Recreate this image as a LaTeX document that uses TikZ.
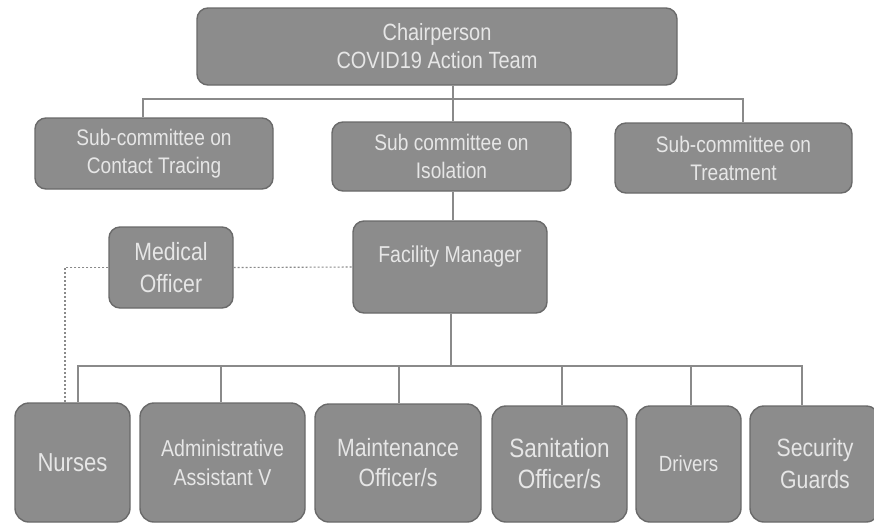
\documentclass[tikz,border=0pt]{standalone}
\usepackage{fontspec}
\setmainfont[FakeStretch=0.85]{Liberation Sans}
\definecolor{boxfill}{HTML}{8C8C8C}
\definecolor{boxedge}{HTML}{6A6A6A}
\definecolor{boxtext}{HTML}{E6E6E6}
\definecolor{linkgray}{HTML}{8A8A8A}
\newcommand{\fs}[2]{\fontsize{#1}{#2}\selectfont}
\begin{document}
\begin{tikzpicture}[x=1pt,y=-1pt,
  box/.style={draw=boxedge, line width=1.4pt, fill=boxfill, rounded corners=11pt,
              text=boxtext, align=center, inner sep=0pt},
  link/.style={draw=linkgray, line width=1.1pt},
  dotlink/.style={draw=linkgray, line width=1.1pt, dash pattern=on 2pt off 2pt},
]
\useasboundingbox[fill=white] (0,0) rectangle (874,523);

% top level
\node[box, minimum width=480pt, minimum height=77pt, font=\fs{23.5}{28}] (chair) at (437,46.5)
  {Chairperson\\COVID19 Action Team};

% sub-committees
\node[box, minimum width=238pt, minimum height=71pt, font=\fs{22.5}{28}] (sub1) at (154,153.5)
  {Sub-committee on\\Contact Tracing};
\node[box, minimum width=239pt, minimum height=69pt, font=\fs{22.5}{28}] (sub2) at (451.5,156.5)
  {Sub committee on\\Isolation};
\node[box, minimum width=237pt, minimum height=70pt, font=\fs{22.5}{28}] (sub3) at (733.5,158)
  {Sub-committee on\\Treatment};

% isolation facility
\node[box, minimum width=194pt, minimum height=92pt, font=\fs{23}{26}] (fac) at (450,267)
  {Facility Manager\\\mbox{}};
\node[box, minimum width=124pt, minimum height=81pt, font=\fs{25}{32}] (med) at (171,267.5)
  {Medical\\Officer};

% staff
\node[box, minimum width=115pt, minimum height=119pt, rounded corners=14pt, font=\fs{26}{30}] (nurses) at (72.5,462.5)
  {Nurses};
\node[box, minimum width=165pt, minimum height=119pt, rounded corners=14pt, font=\fs{23}{29}] (admin) at (222.5,462.5)
  {Administrative\\Assistant V};
\node[box, minimum width=166pt, minimum height=118pt, rounded corners=14pt, font=\fs{25}{30}] (maint) at (398,463)
  {Maintenance\\Officer/s};
\node[box, minimum width=135pt, minimum height=116pt, rounded corners=14pt, font=\fs{26.5}{31}] (sanit) at (559.5,464)
  {Sanitation\\Officer/s};
\node[box, minimum width=105pt, minimum height=116pt, rounded corners=14pt, font=\fs{22}{28}] (drivers) at (688.5,464)
  {Drivers};
\node[box, minimum width=130pt, minimum height=116pt, rounded corners=14pt, font=\fs{25}{32}] (guards) at (815,464)
  {Security\\Guards};

% bus coordinates
\coordinate (t1) at (143,99);
\coordinate (t2) at (453,99);
\coordinate (t3) at (743,99);
\coordinate (b0) at (451,366);
\coordinate (b1) at (78,366);
\coordinate (b2) at (221,366);
\coordinate (b3) at (399,366);
\coordinate (b4) at (562,366);
\coordinate (b5) at (691,366);
\coordinate (b6) at (802,366);
\coordinate (d1) at (65,267.5);

% solid reporting lines
\draw[link] (t1 |- sub1.north) -- (t1) -- (t3) -- (t3 |- sub3.north);
\draw[link] (chair.south -| t2) -- (t2 |- sub2.north);
\draw[link] (sub2.south -| t2) -- (t2 |- fac.north);
\draw[link] (fac.south -| b0) -- (b0);
\draw[link] (b1 |- nurses.north) -- (b1) -- (b6) -- (b6 |- guards.north);
\draw[link] (b2) -- (b2 |- admin.north);
\draw[link] (b3) -- (b3 |- maint.north);
\draw[link] (b4) -- (b4 |- sanit.north);
\draw[link] (b5) -- (b5 |- drivers.north);

% dotted coordination lines
\draw[dotlink] (med.east) -- (fac.west);
\draw[dotlink] (med.west) -- (d1) -- (d1 |- nurses.north);
\end{tikzpicture}
\end{document}
